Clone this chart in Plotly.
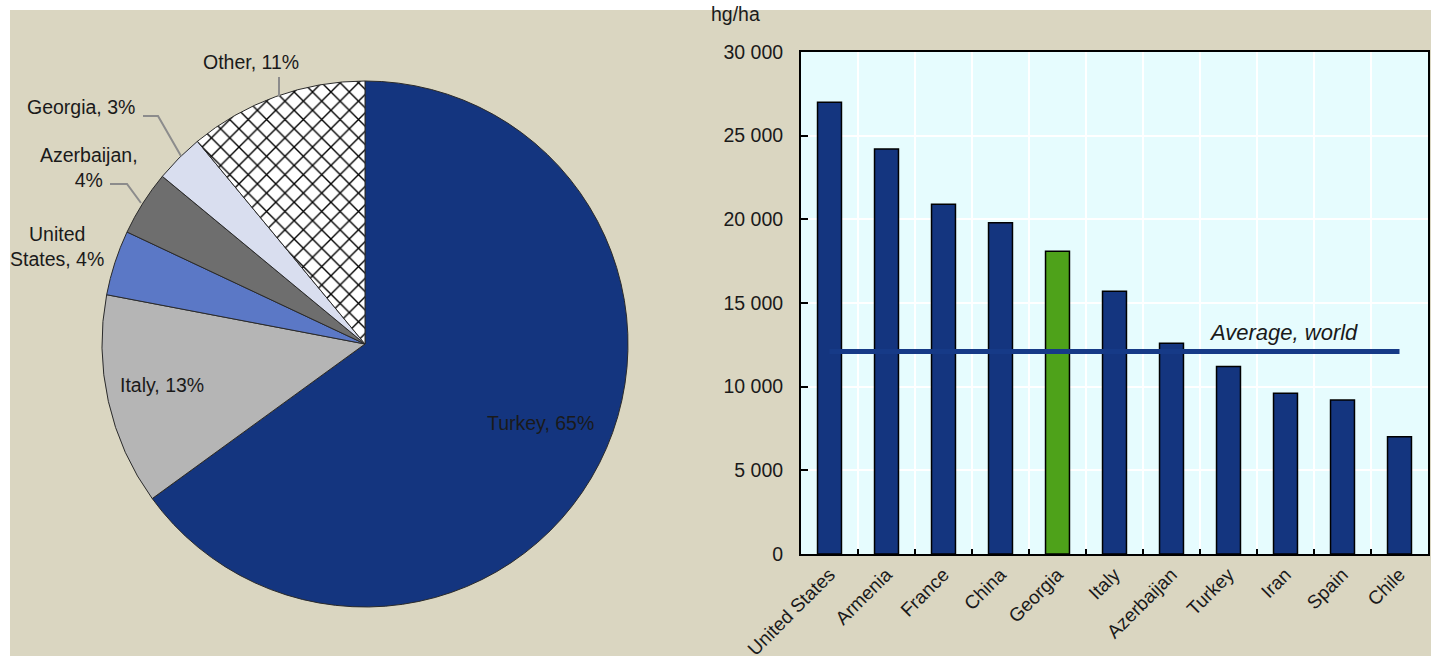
import plotly.graph_objects as go

# ---- Data -------------------------------------------------------------
# Share of world hazelnut production (%)
pie_labels = ["Turkey", "Italy", "United States", "Azerbaijan", "Georgia", "Other"]
pie_shares = [65, 13, 4, 4, 3, 11]

# Yield by country (hg/ha)
countries = ["United States", "Armenia", "France", "China", "Georgia", "Italy",
             "Azerbaijan", "Turkey", "Iran", "Spain", "Chile"]
yields = [27000, 24200, 20900, 19800, 18100, 15700, 12600, 11200, 9600, 9200, 7000]
world_average = 12100

y_ticks = [0, 5000, 10000, 15000, 20000, 25000, 30000]
y_tick_text = ["0", "5 000", "10 000", "15 000", "20 000", "25 000", "30 000"]

# ---- Styling ----------------------------------------------------------
W, H = 1435, 656
FONT = "Liberation Sans, Arial, sans-serif"
TXT = "#1a1a1a"
NAVY = "#14357f"
GREEN = "#4ea21a"
BEIGE = "#dad6c1"
PLOT_BG = "#e6fcfe"

pie_colors = [NAVY, "#b5b5b5", "#5b78c6", "#6e6e6e", "#d9deef", "#ffffff"]


def px(x):
    return x / W


def py(y):
    return 1 - y / H


fig = go.Figure()

# Pie: production shares
fig.add_trace(go.Pie(
    labels=pie_labels,
    values=pie_shares,
    sort=False,
    direction="clockwise",
    rotation=0,
    textinfo="none",
    hoverinfo="label+percent",
    showlegend=False,
    marker=dict(
        colors=pie_colors,
        line=dict(color="#2a2a2a", width=1),
        pattern=dict(
            shape=["", "", "", "", "", "x"],
            fgcolor="#000000",
            bgcolor="#ffffff",
            size=13,
            solidity=0.2,
        ),
    ),
    domain=dict(x=[px(102), px(628)], y=[py(607), py(81)]),
))

# Bars: yields
fig.add_trace(go.Bar(
    x=countries,
    y=yields,
    marker=dict(
        color=[GREEN if c == "Georgia" else NAVY for c in countries],
        line=dict(color="#000000", width=1.5),
    ),
    width=0.42,
    showlegend=False,
    xaxis="x",
    yaxis="y",
))

# World average line, drawn over the bars
fig.add_trace(go.Scatter(
    x=[countries[0], countries[-1]],
    y=[world_average, world_average],
    mode="lines",
    line=dict(color="#163a87", width=5),
    showlegend=False,
    hoverinfo="skip",
))

fig.update_layout(
    width=W,
    height=H,
    margin=dict(l=0, r=0, t=0, b=0),
    paper_bgcolor=BEIGE,
    plot_bgcolor=PLOT_BG,
    font=dict(family=FONT, size=20, color=TXT),
    xaxis=dict(
        domain=[px(801), px(1428)],
        type="category",
        range=[-0.5, len(countries) - 0.5],
        tickson="boundaries",
        ticks="inside",
        ticklen=5,
        tickwidth=1.5,
        tickcolor="#000000",
        tickangle=-45,
        tickfont=dict(size=19, color=TXT),
        showgrid=True,
        gridcolor="#ffffff",
        gridwidth=2,
        showline=True,
        linecolor="#000000",
        linewidth=2,
        mirror=True,
        automargin=False,
        fixedrange=True,
    ),
    yaxis=dict(
        domain=[py(554), py(52)],
        range=[0, 30000],
        tickvals=y_ticks,
        ticktext=y_tick_text,
        ticks="inside",
        ticklen=7,
        tickwidth=1.5,
        tickcolor="#000000",
        tickfont=dict(size=19.5, color=TXT),
        ticklabelstandoff=12,
        showgrid=True,
        gridcolor="#ffffff",
        gridwidth=2,
        zeroline=False,
        showline=True,
        linecolor="#000000",
        linewidth=2,
        mirror=True,
        automargin=False,
        fixedrange=True,
    ),
    bargap=0.58,
)

# White page edges around the beige panel
shapes = [
    dict(type="rect", xref="paper", yref="paper", x0=0, x1=px(10), y0=0, y1=1,
         fillcolor="#ffffff", line=dict(width=0), layer="below"),
    dict(type="rect", xref="paper", yref="paper", x0=0, x1=1, y0=py(10), y1=1,
         fillcolor="#ffffff", line=dict(width=0), layer="below"),
    dict(type="rect", xref="paper", yref="paper", x0=px(1431), x1=1, y0=0, y1=1,
         fillcolor="#ffffff", line=dict(width=0), layer="below"),
]


def leader(points):
    path = "M " + " L ".join(f"{px(x)},{py(y)}" for x, y in points)
    return dict(type="path", xref="paper", yref="paper", path=path,
                line=dict(color="#8c8c8c", width=2), layer="above")


shapes += [
    leader([(279, 77), (279, 96)]),
    leader([(143, 116), (158, 116), (181, 156)]),
    leader([(110, 184), (127, 184), (141, 203)]),
]
fig.update_layout(shapes=shapes)

# Pie labels built from the same shares
pie_text = {lab: f"{lab}, {v}%" for lab, v in zip(pie_labels, pie_shares)}
pie_text["Azerbaijan"] = f"Azerbaijan,<br>{pie_shares[3]}%"
pie_text["United States"] = f"United<br>States, {pie_shares[2]}%"
label_pos = {
    "Turkey": (540, 423),
    "Italy": (162, 385),
    "United States": (57, 246),
    "Azerbaijan": (89, 167),
    "Georgia": (81, 107),
    "Other": (251, 62),
}

annotations = []
for lab in pie_labels:
    x, y = label_pos[lab]
    annotations.append(dict(
        x=px(x), y=py(y), xref="paper", yref="paper",
        text=pie_text[lab], showarrow=False, align="center",
        xanchor="center", yanchor="middle",
        font=dict(family=FONT, size=19.5, color=TXT),
    ))

annotations += [
    dict(x=px(735), y=py(14), xref="paper", yref="paper", text="hg/ha",
         showarrow=False, xanchor="center", yanchor="middle",
         font=dict(family=FONT, size=19.5, color=TXT)),
    dict(x=px(1283), y=py(333), xref="paper", yref="paper",
         text="<i>Average, world</i>", showarrow=False,
         xanchor="center", yanchor="middle",
         font=dict(family=FONT, size=22, color=TXT)),
]
fig.update_layout(annotations=annotations)

fig.write_html("out.html")
